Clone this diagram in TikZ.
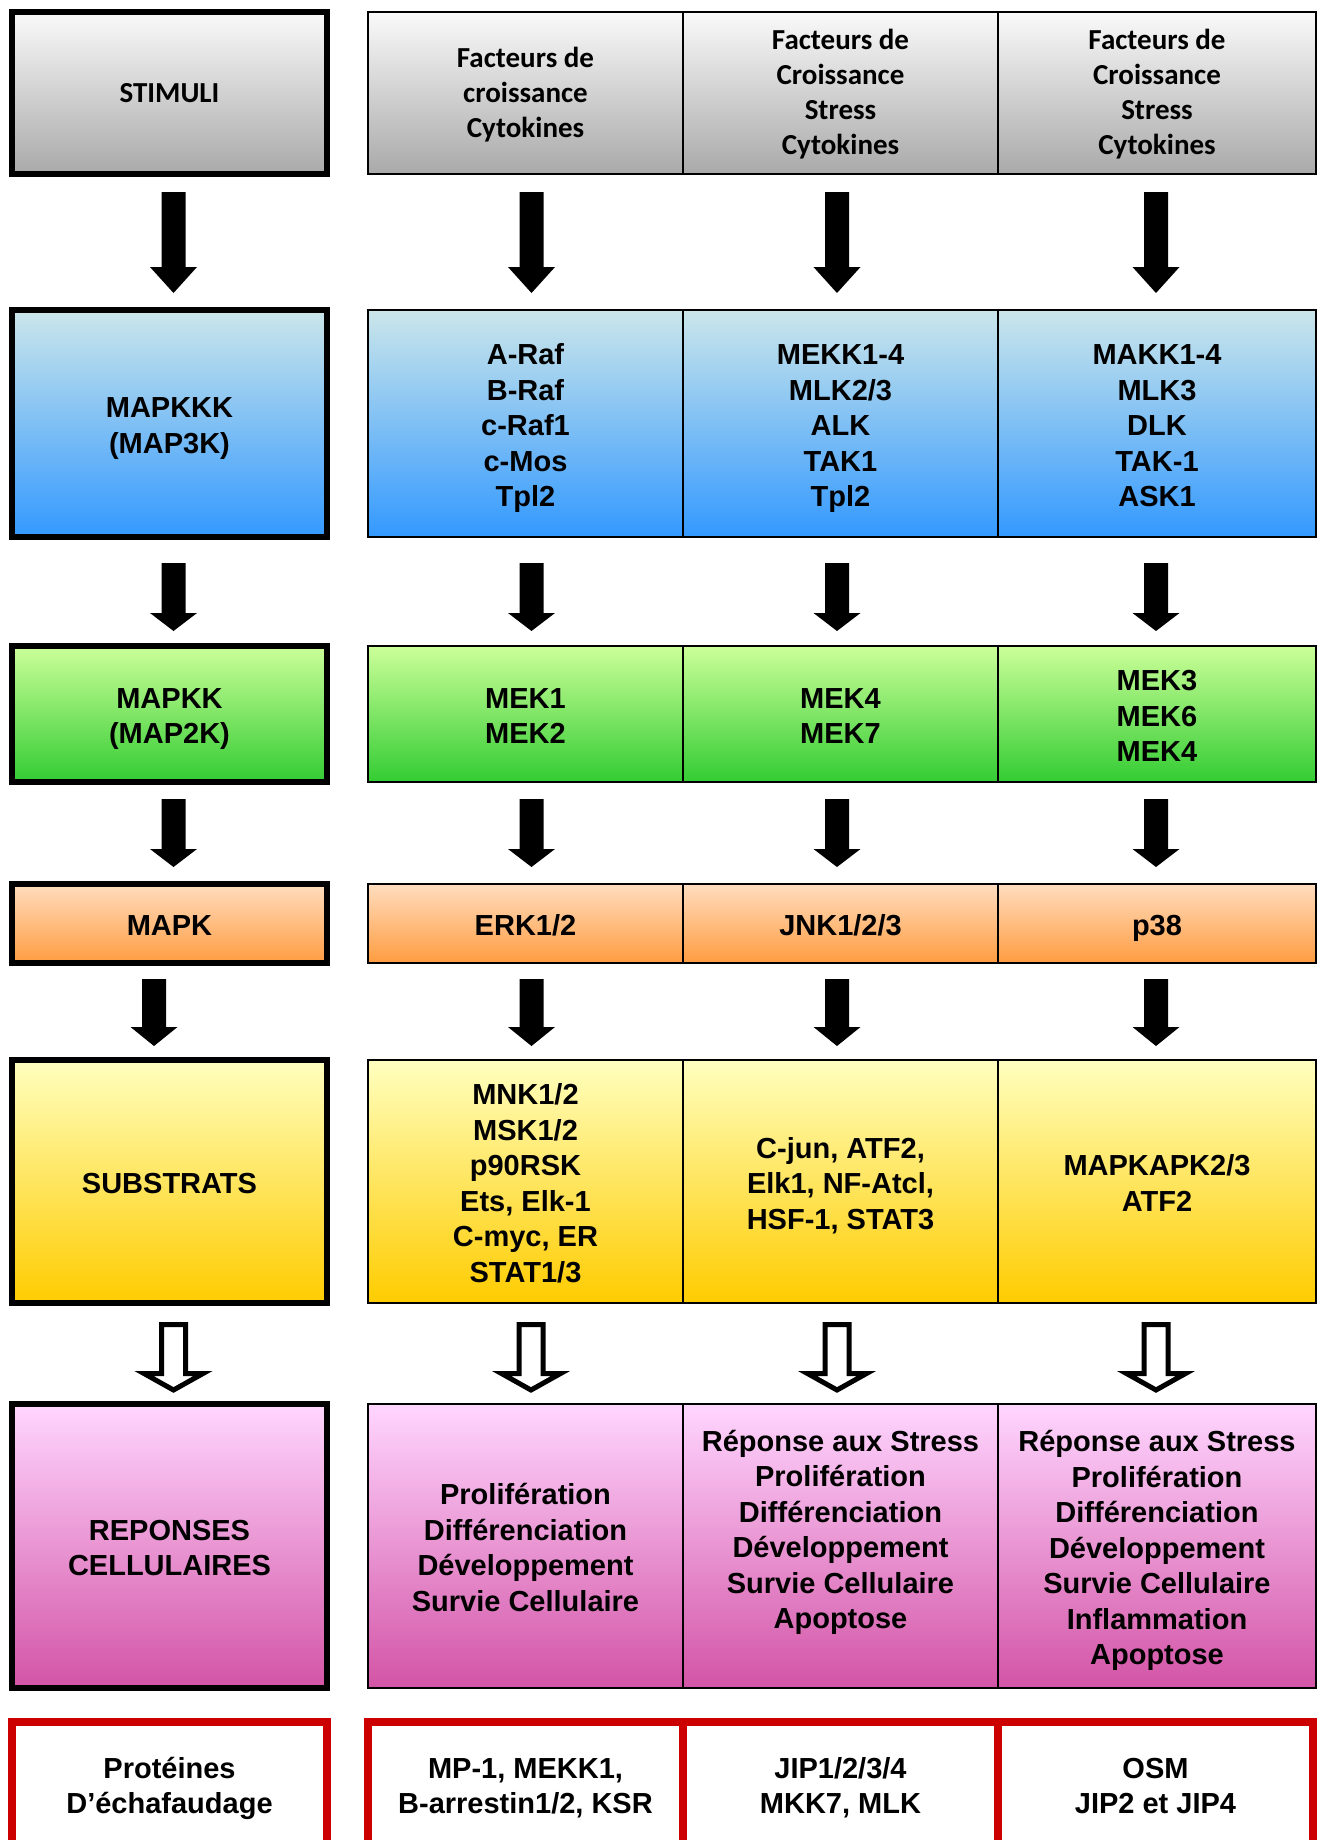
\documentclass[tikz,border=0pt]{standalone}
\usepackage{fontspec}
\setmainfont{Liberation Sans}
\newfontfamily\calfont{Carlito}
\usetikzlibrary{calc}
\definecolor{gtop}{HTML}{FAFAFA}\definecolor{gbot}{HTML}{A9A9A9}
\definecolor{btop}{HTML}{CBE6EA}\definecolor{bbot}{HTML}{3399FF}
\definecolor{ntop}{HTML}{CCFF99}\definecolor{nbot}{HTML}{33CC33}
\definecolor{otop}{HTML}{FFDDBF}\definecolor{obot}{HTML}{FF9C40}
\definecolor{ytop}{HTML}{FFFFBF}\definecolor{ybot}{HTML}{FFCC00}
\definecolor{ptop}{HTML}{FFD6FF}\definecolor{pbot}{HTML}{D354A6}
\definecolor{redb}{HTML}{CC0000}
\newcommand\topstr{\rule{0pt}{30.5pt}}
\newcommand\calstr{\rule{0pt}{24.7pt}}
\newcommand\blockarrow[6]{\fill let \p1=($(#1.south)+(#3,#4)$), \p2=($(#2.north)+(#3,-#5)$) in
  (\x1-12pt,\y1) -- (\x1+12pt,\y1) -- (\x1+12pt,\y2+#6pt) -- (\x1+23.5pt,\y2+#6pt) -- (\x2,\y2)
  -- (\x1-23.5pt,\y2+#6pt) -- (\x1-12pt,\y2+#6pt) -- cycle;}
\newcommand\hollowarrow[6]{\draw[line width=5pt, fill=white, line join=miter] let \p1=($(#1.south)+(#3,#4)$), \p2=($(#2.north)+(#3,-#5)$) in
  (\x1-12pt,\y1) -- (\x1+12pt,\y1) -- (\x1+12pt,\y2+#6pt) -- (\x1+29.5pt,\y2+#6pt) -- (\x2,\y2)
  -- (\x1-29.5pt,\y2+#6pt) -- (\x1-12pt,\y2+#6pt) -- cycle;}
\begin{document}
\begin{tikzpicture}[x=1pt,y=-1pt,
  txt/.style={font=\bfseries\fontsize{29}{35.5}\selectfont, align=center,
    execute at end node={\rule[-6.2pt]{0pt}{6.2pt}}},
  cal/.style={font=\calfont\bfseries\fontsize{29}{35}\selectfont, align=center,
    execute at end node={\rule[-6pt]{0pt}{6pt}}},
  cell/.style={draw=black, line width=2pt, rectangle, inner sep=0pt, outer sep=0pt, minimum width=315pt},
  lbox/.style={draw=black, line width=6.5pt, rectangle, inner sep=0pt, outer sep=0pt, minimum width=315pt},
  rbox/.style={draw=redb, line width=7.5pt, rectangle, inner sep=0pt, outer sep=0pt, fill=white, minimum width=315pt, minimum height=124pt},
  gray/.style={top color=gtop, bottom color=gbot, minimum height=162pt},
  blue/.style={top color=btop, bottom color=bbot, minimum height=227pt},
  green/.style={top color=ntop, bottom color=nbot, minimum height=136pt},
  orange/.style={top color=otop, bottom color=obot, minimum height=79pt},
  yellow/.style={top color=ytop, bottom color=ybot, minimum height=243pt},
  pink/.style={top color=ptop, bottom color=pbot, minimum height=284pt}]
\useasboundingbox (0,0) rectangle (1325,1840);
\fill[white] (0,0) rectangle (1325,1840);

% Row 1
\node[lbox, gray, cal] (L1) at (169.5,93) {\calstr STIMULI};
\node[cell, gray, cal] (A1) at (525.5,93) {\calstr Facteurs de\\croissance\\Cytokines};
\node[cell, gray, cal] (B1) at (840.5,93) {\calstr Facteurs de\\Croissance\\Stress\\Cytokines};
\node[cell, gray, cal, minimum width=318pt] (C1) at (1157,93) {\calstr Facteurs de\\Croissance\\Stress\\Cytokines};

% Row 2
\node[lbox, blue, txt] (L2) at (169.5,423.5) {\topstr MAPKKK\\(MAP3K)};
\node[cell, blue, txt] (A2) at (525.5,423.5) {\topstr A-Raf\\B-Raf\\c-Raf1\\c-Mos\\Tpl2};
\node[cell, blue, txt] (B2) at (840.5,423.5) {\topstr MEKK1-4\\MLK2/3\\ALK\\TAK1\\Tpl2};
\node[cell, blue, txt, minimum width=318pt] (C2) at (1157,423.5) {\topstr MAKK1-4\\MLK3\\DLK\\TAK-1\\ASK1};

% Row 3
\node[lbox, green, txt] (L3) at (169.5,714) {\topstr MAPKK\\(MAP2K)};
\node[cell, green, txt] (A3) at (525.5,714) {\topstr MEK1\\MEK2};
\node[cell, green, txt] (B3) at (840.5,714) {\topstr MEK4\\MEK7};
\node[cell, green, txt, minimum width=318pt] (C3) at (1157,714) {\topstr MEK3\\MEK6\\MEK4};

% Row 4
\node[lbox, orange, txt] (L4) at (169.5,923.5) {\topstr MAPK};
\node[cell, orange, txt] (A4) at (525.5,923.5) {\topstr ERK1/2};
\node[cell, orange, txt] (B4) at (840.5,923.5) {\topstr JNK1/2/3};
\node[cell, orange, txt, minimum width=318pt] (C4) at (1157,923.5) {\topstr p38};

% Row 5
\node[lbox, yellow, txt] (L5) at (169.5,1181.5) {\topstr SUBSTRATS};
\node[cell, yellow, txt] (A5) at (525.5,1181.5) {\topstr MNK1/2\\MSK1/2\\p90RSK\\Ets, Elk-1\\C-myc, ER\\STAT1/3};
\node[cell, yellow, txt] (B5) at (840.5,1181.5) {\topstr C-jun, ATF2,\\Elk1, NF-Atcl,\\HSF-1, STAT3};
\node[cell, yellow, txt, minimum width=318pt] (C5) at (1157,1181.5) {\topstr MAPKAPK2/3\\ATF2};

% Row 6
\node[lbox, pink, txt] (L6) at (169.5,1546) {\topstr REPONSES\\CELLULAIRES};
\node[cell, pink, txt] (A6) at (525.5,1546) {\topstr Prolifération\\Différenciation\\Développement\\Survie Cellulaire};
\node[cell, pink] (B6) at (840.5,1546) {};
\node[txt] (B6t) at (840.5,1528) {\topstr Réponse aux Stress\\Prolifération\\Différenciation\\Développement\\Survie Cellulaire\\Apoptose};
\node[cell, pink, txt, minimum width=318pt] (C6) at (1157,1546) {\topstr Réponse aux Stress\\Prolifération\\Différenciation\\Développement\\Survie Cellulaire\\Inflammation\\Apoptose};

% Row 7 (scaffold proteins)
\node[rbox, txt] (L7) at (169.5,1784) {\topstr Protéines\\D’échafaudage};
\node[rbox, txt] (A7) at (525.5,1784) {\topstr MP-1, MEKK1,\\B-arrestin1/2, KSR};
\node[rbox, txt] (B7) at (840.5,1784) {\topstr JIP1/2/3/4\\MKK7, MLK};
\node[rbox, txt, minimum width=315pt] (C7) at (1155.5,1784) {\topstr OSM\\JIP2 et JIP4};

% Arrows
\blockarrow{L1}{L2}{4}{18}{17}{26}
\blockarrow{A1}{A2}{6}{18}{17}{26}
\blockarrow{B1}{B2}{-3.5}{18}{17}{26}
\blockarrow{C1}{C2}{-1}{18}{17}{26}

\blockarrow{L2}{L3}{4}{26}{15}{18}
\blockarrow{A2}{A3}{6}{26}{15}{18}
\blockarrow{B2}{B3}{-3.5}{26}{15}{18}
\blockarrow{C2}{C3}{-1}{26}{15}{18}

\blockarrow{L3}{L4}{4}{17}{17}{18}
\blockarrow{A3}{A4}{6}{17}{17}{18}
\blockarrow{B3}{B4}{-3.5}{17}{17}{18}
\blockarrow{C3}{C4}{-1}{17}{17}{18}

\blockarrow{L4}{L5}{-15.5}{16}{14}{19}
\blockarrow{A4}{A5}{6}{16}{14}{19}
\blockarrow{B4}{B5}{-3.5}{16}{14}{19}
\blockarrow{C4}{C5}{-1}{16}{14}{19}

\hollowarrow{L5}{L6}{4}{21.5}{14}{16.5}
\hollowarrow{A5}{A6}{5.5}{21.5}{14}{16.5}
\hollowarrow{B5}{B6}{-3.5}{21.5}{14}{16.5}
\hollowarrow{C5}{C6}{-1}{21.5}{14}{16.5}
\end{tikzpicture}
\end{document}
